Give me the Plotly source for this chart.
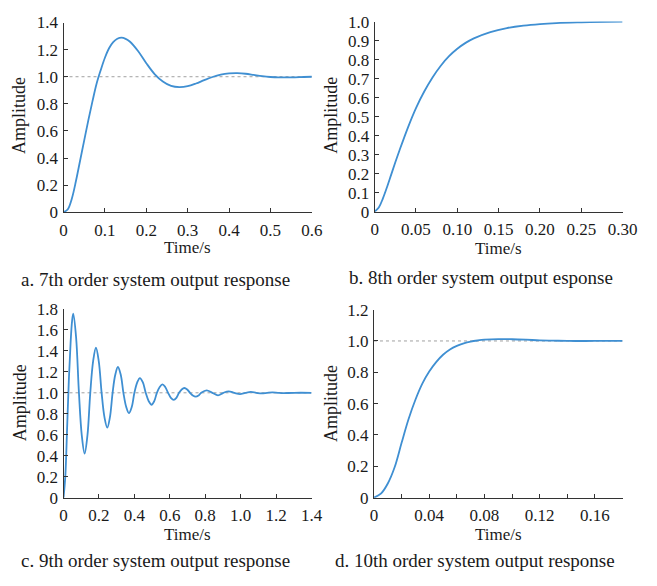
import plotly.graph_objects as go

# ---- data ----
t_a = [0, 0.01, 0.02, 0.03, 0.04, 0.05, 0.06, 0.07, 0.08, 0.09, 0.10, 0.11, 0.12, 0.13, 0.14,
       0.15, 0.16, 0.18, 0.20, 0.22, 0.24, 0.26, 0.28, 0.30, 0.32, 0.34, 0.36, 0.38, 0.40,
       0.42, 0.44, 0.46, 0.48, 0.50, 0.52, 0.55, 0.58, 0.60]
y_a = [0, 0.02, 0.10, 0.23, 0.38, 0.53, 0.68, 0.82, 0.95, 1.05, 1.14, 1.21, 1.255, 1.28, 1.288,
       1.28, 1.26, 1.19, 1.10, 1.02, 0.965, 0.932, 0.923, 0.93, 0.95, 0.975, 0.998, 1.015, 1.024,
       1.026, 1.022, 1.013, 1.004, 0.998, 0.995, 0.995, 0.998, 1.0]

t_b = [0, 0.005, 0.01, 0.015, 0.02, 0.025, 0.03, 0.04, 0.05, 0.06, 0.07, 0.08, 0.09, 0.10,
       0.11, 0.12, 0.14, 0.16, 0.18, 0.20, 0.22, 0.25, 0.28, 0.30]
y_b = [0, 0.022, 0.07, 0.13, 0.195, 0.26, 0.322, 0.44, 0.545, 0.632, 0.706, 0.768, 0.818, 0.857,
       0.888, 0.912, 0.945, 0.966, 0.979, 0.987, 0.992, 0.996, 0.999, 1.0]

t_c = [0, 0.01, 0.02, 0.03, 0.04, 0.048, 0.055, 0.071, 0.087, 0.103, 0.119, 0.135, 0.151,
       0.167, 0.183, 0.199, 0.215, 0.231, 0.247, 0.262, 0.277, 0.292, 0.307, 0.323, 0.338,
       0.354, 0.369, 0.385, 0.40, 0.416, 0.431, 0.448, 0.464, 0.481, 0.497, 0.512, 0.527,
       0.543, 0.558, 0.574, 0.59, 0.606, 0.622, 0.637, 0.652, 0.667, 0.682, 0.698, 0.714,
       0.730, 0.746, 0.762, 0.777, 0.808, 0.84, 0.872, 0.902, 0.932, 0.964, 0.996, 1.027,
       1.057, 1.088, 1.119, 1.15, 1.18, 1.21, 1.24, 1.30, 1.40]
y_c = [0, 0.2, 0.65, 1.12, 1.48, 1.68, 1.754, 1.528, 1.0, 0.594, 0.42, 0.594, 1.0,
       1.30, 1.43, 1.30, 1.0, 0.768, 0.668, 0.768, 1.0, 1.172, 1.246, 1.172, 1.0,
       0.864, 0.806, 0.864, 1.0, 1.099, 1.141, 1.099, 1.0, 0.920, 0.886, 0.920, 1.0,
       1.056, 1.08, 1.056, 1.0, 0.952, 0.932, 0.952, 1.0, 1.032, 1.046, 1.032, 1.0,
       0.974, 0.963, 0.974, 1.0, 1.024, 1.0, 0.976, 1.0, 1.014, 1.0, 0.988, 1.0,
       1.008, 1.0, 0.994, 1.0, 1.004, 1.0, 0.997, 1.0, 1.0]

t_d = [0, 0.005, 0.01, 0.015, 0.02, 0.025, 0.03, 0.035, 0.04, 0.045, 0.05, 0.055, 0.06, 0.065,
       0.07, 0.075, 0.08, 0.09, 0.10, 0.11, 0.12, 0.13, 0.14, 0.16, 0.18]
y_d = [0, 0.025, 0.09, 0.195, 0.35, 0.5, 0.625, 0.728, 0.805, 0.865, 0.912, 0.946, 0.969, 0.985,
       0.996, 1.003, 1.008, 1.012, 1.011, 1.008, 1.004, 1.002, 1.0, 1.0, 1.0]

captions = ["a. 7th order system output response", "b. 8th order system output esponse",
            "c. 9th order system output response", "d. 10th order system output response"]

W, H = 657, 586
FONT = "Liberation Serif, Times New Roman, serif"
TXT = "#1a1a1a"
LINE = "#3f8fd2"


def px(x):
    return x / W


def py(y):
    return 1 - y / H


panels = [
    dict(t=t_a, y=y_a, xd=(61.3, 317.0), yd=(210, 14), xr=[0, 0.6],
         xtv=[0, 0.1, 0.2, 0.3, 0.4, 0.5, 0.6], xtt=["0", "0.1", "0.2", "0.3", "0.4", "0.5", "0.6"],
         yr=[0, 1.4], ytv=[0, 0.2, 0.4, 0.6, 0.8, 1.0, 1.2, 1.4],
         ytt=["0", "0.2", "0.4", "0.6", "0.8", "1.0", "1.2", "1.4"], ref=True,
         cap=(156, 280), xt=(189, 247), yt=(16, 110)),
    dict(t=t_b, y=y_b, xd=(381.7, 637.0), yd=(209.5, 13), xr=[0, 0.30],
         xtv=[0, 0.05, 0.10, 0.15, 0.20, 0.25, 0.30],
         xtt=["0", "0.05", "0.10", "0.15", "0.20", "0.25", "0.30"],
         yr=[0, 1.0], ytv=[i / 10 for i in range(11)],
         ytt=["0"] + ["%.1f" % (i / 10) for i in range(1, 11)], ref=False,
         cap=(491, 277), xt=(509, 248), yt=(337, 110)),
    dict(t=t_c, y=y_c, xd=(61.3, 316.7), yd=(505, 310), xr=[0, 1.4],
         xtv=[0, 0.2, 0.4, 0.6, 0.8, 1.0, 1.2, 1.4],
         xtt=["0", "0.2", "0.4", "0.6", "0.8", "1.0", "1.2", "1.4"],
         yr=[0, 1.8], ytv=[0, 0.2, 0.4, 0.6, 0.8, 1.0, 1.2, 1.4, 1.6, 1.8],
         ytt=["0", "0.2", "0.4", "0.6", "0.8", "1.0", "1.2", "1.4", "1.6", "1.8"], ref=True,
         cap=(156, 570), xt=(189, 543), yt=(16, 407)),
    dict(t=t_d, y=y_d, xd=(381.0, 637.0), yd=(505, 310.7), xr=[0, 0.18],
         xtv=[0, 0.04, 0.08, 0.12, 0.16], xtt=["0", "0.04", "0.08", "0.12", "0.16"],
         yr=[0, 1.2], ytv=[0, 0.2, 0.4, 0.6, 0.8, 1.0, 1.2],
         ytt=["0", "0.2", "0.4", "0.6", "0.8", "1.0", "1.2"], ref=True,
         cap=(485, 570), xt=(509, 543), yt=(336, 408)),
]

fig = go.Figure()
annotations = []
for i, p in enumerate(panels, start=1):
    xa = "x" if i == 1 else f"x{i}"
    ya = "y" if i == 1 else f"y{i}"
    if p["ref"]:
        fig.add_trace(go.Scatter(x=[p["xr"][0], p["xr"][1]], y=[1.0, 1.0], mode="lines",
                                 line=dict(color="#a0a0a0", width=1, dash="dot"),
                                 xaxis=xa, yaxis=ya, showlegend=False, hoverinfo="skip"))
    fig.add_trace(go.Scatter(x=p["t"], y=p["y"], mode="lines",
                             line=dict(color=LINE, width=1.8, shape="spline", smoothing=1.0),
                             xaxis=xa, yaxis=ya, showlegend=False))
    axcommon = dict(showgrid=False, zeroline=False, showline=True, linecolor="#333333",
                    linewidth=1.2, ticks="inside", ticklen=4, tickwidth=1.2, tickcolor="#333333",
                    tickfont=dict(family=FONT, size=17, color=TXT), mirror=False)
    xkey = "xaxis" if i == 1 else f"xaxis{i}"
    ykey = "yaxis" if i == 1 else f"yaxis{i}"
    xdict = dict(axcommon, domain=[px(p["xd"][0]), px(p["xd"][1])], range=p["xr"],
                 anchor=ya, tickvals=p["xtv"], ticktext=p["xtt"], ticklabelstandoff=2)
    if i == 4:
        xdict["minor"] = dict(dtick=0.02, tick0=0, ticks="inside", ticklen=4, tickwidth=1.2,
                              tickcolor="#333333", showgrid=False)
    ydict = dict(axcommon, domain=[py(p["yd"][0]), py(p["yd"][1])], range=p["yr"],
                 anchor=xa, tickvals=p["ytv"], ticktext=p["ytt"], ticklabelstandoff=1)
    fig.update_layout(**{xkey: xdict, ykey: ydict})
    annotations.append(dict(text=captions[i - 1], x=px(p["cap"][0]), y=py(p["cap"][1]),
                            xref="paper", yref="paper", showarrow=False,
                            xanchor="center", yanchor="middle",
                            font=dict(family=FONT, size=19, color=TXT)))
    annotations.append(dict(text="Time/s", x=px(p["xt"][0]), y=py(p["xt"][1]),
                            xref="paper", yref="paper", showarrow=False,
                            xanchor="center", yanchor="middle",
                            font=dict(family=FONT, size=17, color=TXT)))
    annotations.append(dict(text="Amplitude", x=px(p["yt"][0]), y=py(p["yt"][1]),
                            xref="paper", yref="paper", showarrow=False, textangle=-90,
                            xanchor="center", yanchor="middle",
                            font=dict(family=FONT, size=18, color=TXT)))

fig.update_layout(width=W, height=H, margin=dict(l=0, r=0, t=0, b=0),
                  paper_bgcolor="white", plot_bgcolor="white", annotations=annotations,
                  showlegend=False)

fig.write_html("out.html")
